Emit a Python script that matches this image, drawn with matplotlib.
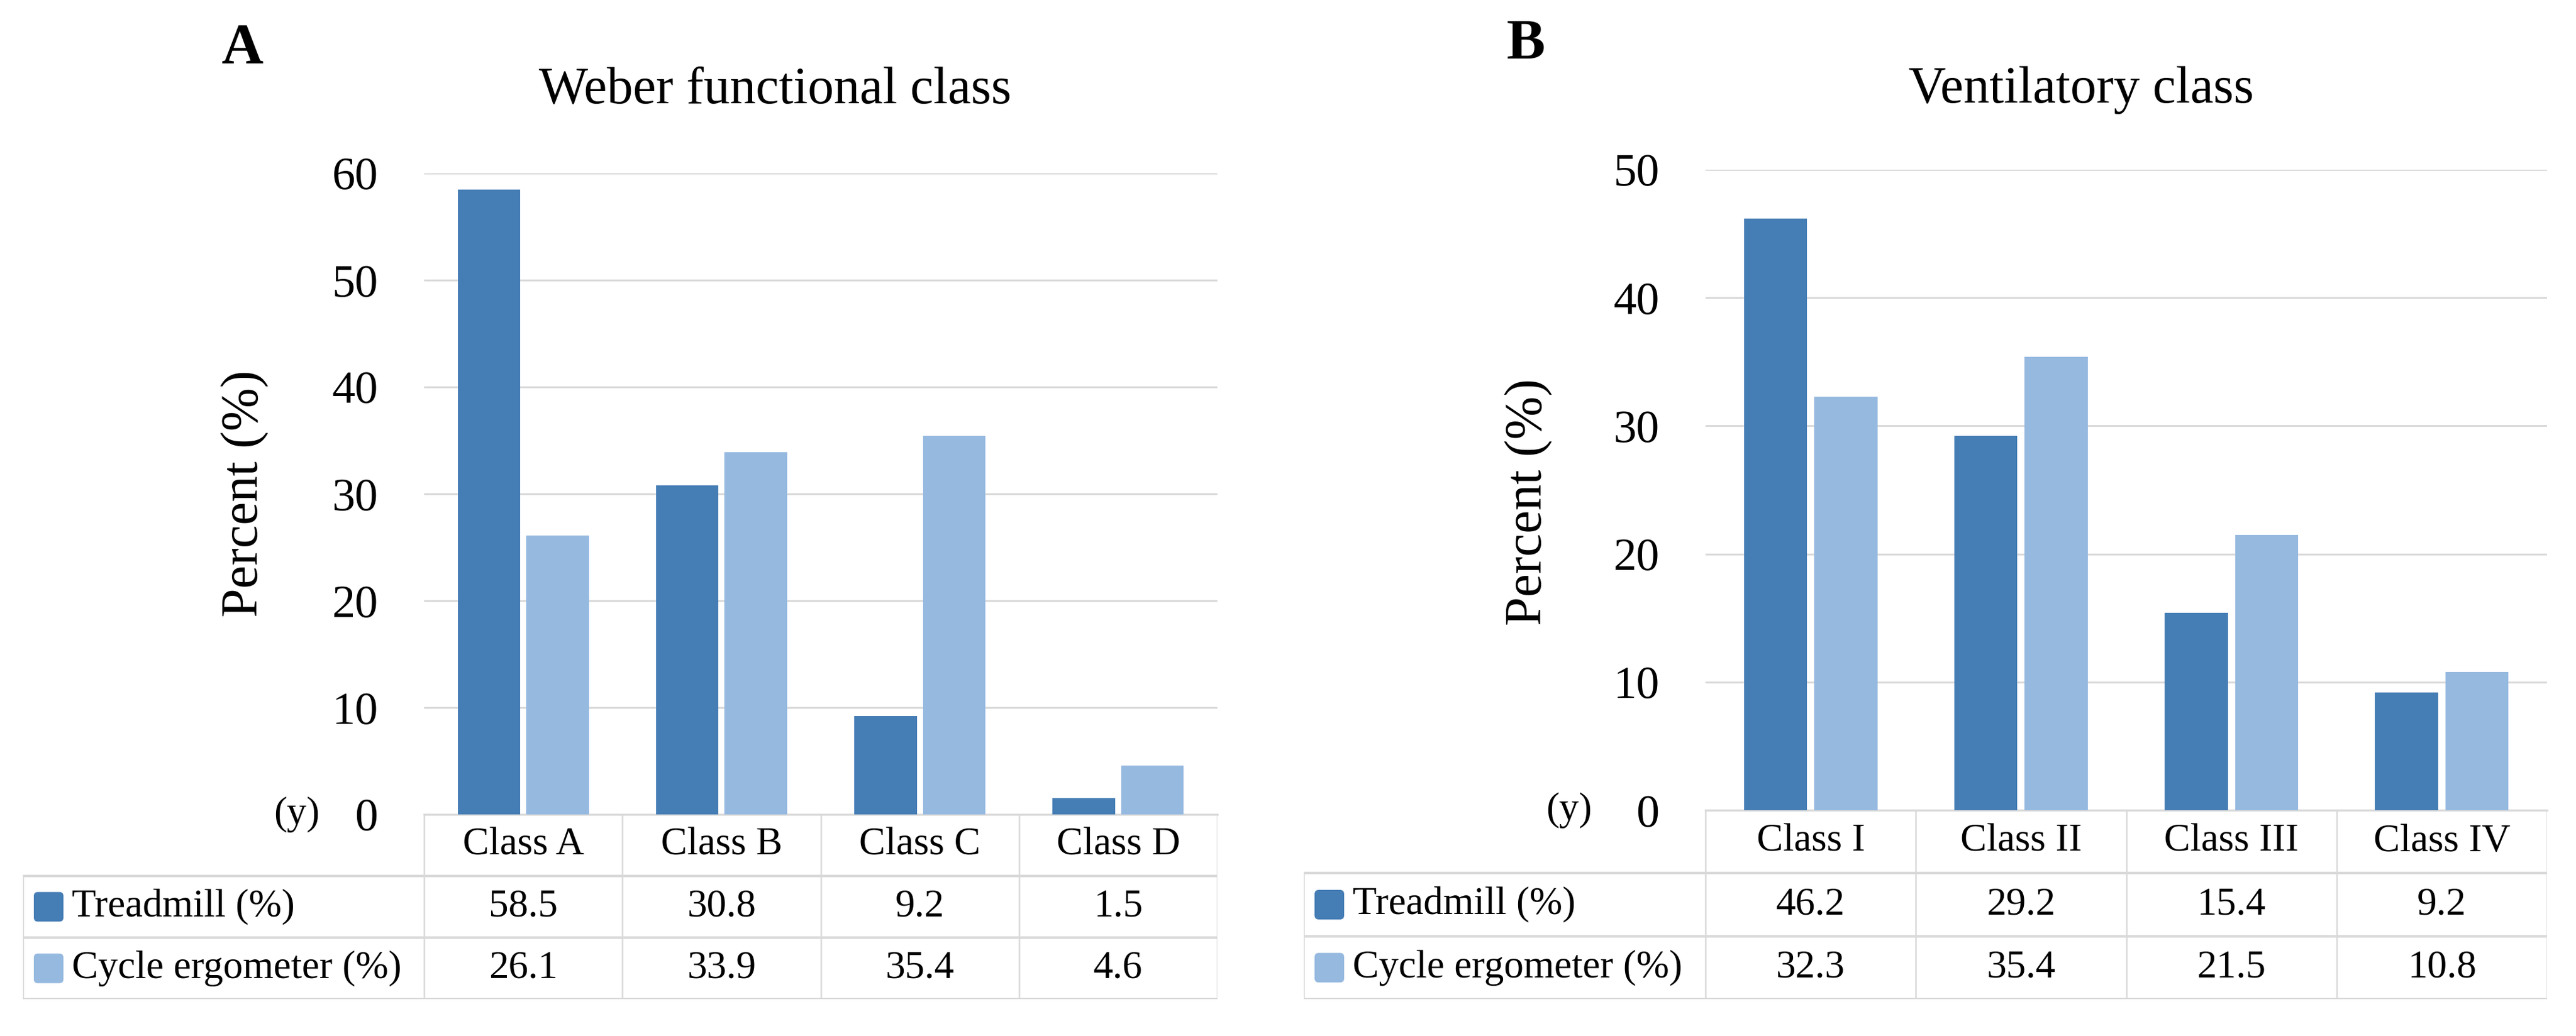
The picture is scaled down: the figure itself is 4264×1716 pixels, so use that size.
import matplotlib.pyplot as plt
from matplotlib.patches import FancyBboxPatch

# Datos
clases_a = ['Class A', 'Class B', 'Class C', 'Class D']
treadmill_a = [58.5, 30.8, 9.2, 1.5]
cycle_a = [26.1, 33.9, 35.4, 4.6]
yticks_a = [0, 10, 20, 30, 40, 50, 60]

clases_b = ['Class I', 'Class II', 'Class III', 'Class IV']
treadmill_b = [46.2, 29.2, 15.4, 9.2]
cycle_b = [32.3, 35.4, 21.5, 10.8]
yticks_b = [0, 10, 20, 30, 40, 50]

series = ['Treadmill (%)', 'Cycle ergometer (%)']
c_dark = '#457db5'
c_light = '#96b9e0'
c_grid = '#d9d9d9'

W, H = 4264, 1716
plt.rcParams['font.family'] = ['Liberation Serif', 'DejaVu Serif']
fig = plt.figure(figsize=(W / 100, H / 100), dpi=100)


def rect(x0, y0, x1, y1):
    # pixeles -> fraccion de figura
    return [x0 / W, 1 - y1 / H, (x1 - x0) / W, (y1 - y0) / H]


def panel(letra, titulo, clases, v1, v2, yticks, cfg):
    x0, x1 = cfg['plot_x']
    ax = fig.add_axes(rect(x0, cfg['top'], x1, cfg['zero']))
    n = len(clases)
    xs = [i + 0.5 for i in range(n)]
    ax.bar([x - cfg['off'] for x in xs], v1, width=cfg['bw'], color=c_dark, zorder=3)
    ax.bar([x + cfg['off'] for x in xs], v2, width=cfg['bw'], color=c_light, zorder=3)
    ax.set_xlim(0, n)
    ax.set_ylim(0, yticks[-1])
    ax.set_yticks(yticks)
    ax.set_xticks([])
    ax.tick_params(axis='y', length=0, pad=55, labelsize=55)
    ax.yaxis.grid(True, color=c_grid, lw=2.2, zorder=0)
    for s in ['top', 'right', 'left']:
        ax.spines[s].set_visible(False)
    ax.spines['bottom'].set_color(c_grid)
    ax.spines['bottom'].set_linewidth(2.5)
    ax.set_axisbelow(True)

    # tabla de datos
    tl = cfg['tab_x']
    colw = (x1 - x0) / n
    lab = (x0 - tl) / colw
    tab = fig.add_axes(rect(tl, cfg['zero'], x1, cfg['tab_bottom']))
    tab.set_xlim(-lab, n)
    tab.set_ylim(3, 0)
    tab.axis('off')
    for i in range(n + 1):
        tab.plot([i, i], [0, 3], color=c_grid, lw=1.8)
    tab.plot([-lab, -lab], [1, 3], color=c_grid, lw=1.8)
    for r in [1, 2, 3]:
        tab.plot([-lab, n], [r, r], color=c_grid, lw=3)
    for i, c in enumerate(clases):
        tab.text(i + 0.5, 0.5, c, ha='center', va='center', fontsize=47)
        tab.text(i + 0.5, 1.5, f'{v1[i]:.1f}', ha='center', va='center', fontsize=47)
        tab.text(i + 0.5, 2.5, f'{v2[i]:.1f}', ha='center', va='center', fontsize=47)
    # claves de la leyenda
    kx = (cfg['key_x'] - x0) / colw
    kw = 49 / colw
    rowh = (cfg['tab_bottom'] - cfg['zero']) / 3
    kh = 49 / rowh
    for r, (nombre, col) in enumerate(zip(series, [c_dark, c_light])):
        tab.add_patch(FancyBboxPatch((kx, r + 1.5 - kh / 2), kw, kh,
                                     boxstyle='round,pad=0,rounding_size=0.02',
                                     mutation_aspect=kh / kw,
                                     fc=col, ec='none'))
        tab.text(kx + kw + 14 / colw, r + 1.5, nombre, ha='left', va='center', fontsize=47)

    fig.text(cfg['y_x'] / W, 1 - cfg['zero'] / H, '(y)', ha='center', va='center', fontsize=47)
    fig.text(cfg['lab_x'] / W, 1 - cfg['lab_y'] / H, 'Percent (%)', rotation=90,
             ha='center', va='center', fontsize=62)
    fig.text(cfg['tit_x'] / W, 1 - 170 / H, titulo, ha='center', va='baseline', fontsize=62)
    fig.text(cfg['let_x'] / W, 1 - cfg['let_y'] / H, letra, ha='left', va='baseline',
             fontsize=69, fontweight='bold')


panel('A', 'Weber functional class', clases_a, treadmill_a, cycle_a, yticks_a,
      dict(plot_x=(702, 2015), top=287, zero=1349, tab_x=38, tab_bottom=1655,
           bw=0.315, off=0.173, key_x=56, y_x=491, lab_x=405, lab_y=817,
           tit_x=1283, let_x=366, let_y=105))
panel('B', 'Ventilatory class', clases_b, treadmill_b, cycle_b, yticks_b,
      dict(plot_x=(2823, 4216), top=281, zero=1342, tab_x=2158, tab_bottom=1655,
           bw=0.30, off=0.167, key_x=2176, y_x=2597, lab_x=2530, lab_y=831,
           tit_x=3445, let_x=2493, let_y=98))

fig.savefig('out.png', dpi=100, facecolor='white')
